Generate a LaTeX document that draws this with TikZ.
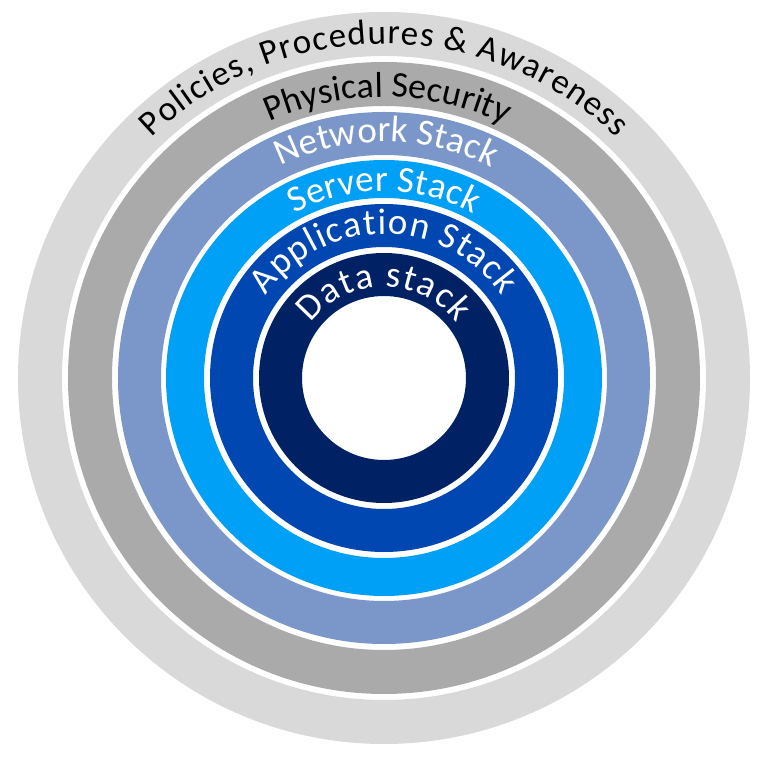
\documentclass[tikz,border=0pt]{standalone}
\usepackage{fontspec}
\newfontfamily\ringfont{Carlito}
\usetikzlibrary{decorations.text}
\definecolor{policy}{HTML}{D9D9D9}
\definecolor{physical}{HTML}{AAAAAA}
\definecolor{network}{HTML}{7B96C8}
\definecolor{server}{HTML}{00A0F6}
\definecolor{application}{HTML}{0047B2}
\definecolor{data}{HTML}{002163}

\begin{document}
\begin{tikzpicture}[
  x=1pt, y=1pt,
  ring/.style={fill=#1, even odd rule},
  arctext/.style n args={3}{decorate, decoration={text along path,
              text={|\ringfont\fontsize{#2}{#2}\selectfont|#3},
              text color=#1, text align={fit to path}}}
]
\useasboundingbox (-384,-384) rectangle (384,378);
% rings, outside in
\path[ring=policy]      (0,0) circle[radius=366] circle[radius=322];
\path[ring=physical]    (0,0) circle[radius=316] circle[radius=272];
\path[ring=network]     (0,0) circle[radius=266] circle[radius=223];
\path[ring=server]      (0,0) circle[radius=218] circle[radius=180];
\path[ring=application] (0,0) circle[radius=174] circle[radius=131];
\path[ring=data]        (0,0) circle[radius=125] circle[radius=82];
% labels along the arcs
\path[arctext={black}{35}{Policies, Procedures {\&} Awareness}]
  (134:334) arc[start angle=134, end angle=46, radius=334];
\path[arctext={black}{36}{Physical Security}]
  (114:281) arc[start angle=114, end angle=66, radius=281];
\path[arctext={white}{37}{Network Stack}]
  (116:236) arc[start angle=116, end angle=64, radius=236];
\path[arctext={white}{37}{Server Stack}]
  (118.5:187) arc[start angle=118.5, end angle=61.5, radius=187];
\path[arctext={white}{37}{Application Stack}]
  (145:144) arc[start angle=145, end angle=35, radius=144];
\path[arctext={white}{37}{Data stack}]
  (143:91) arc[start angle=143, end angle=37, radius=91];
\end{tikzpicture}
\end{document}
